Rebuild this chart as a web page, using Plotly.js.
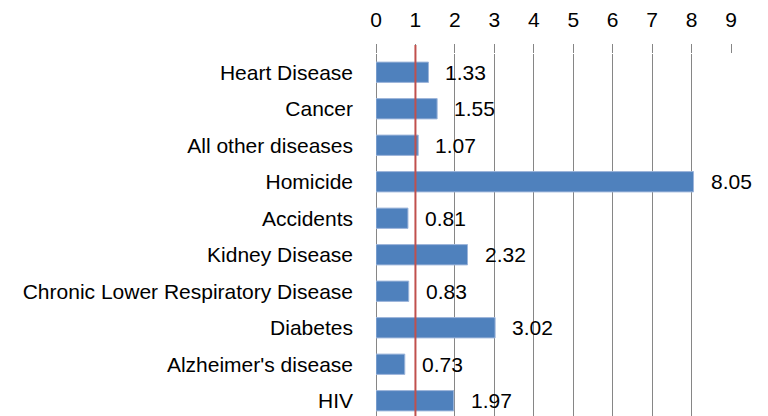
<!DOCTYPE html>
<html>
<head>
<meta charset="utf-8">
<script src="https://cdn.plot.ly/plotly-3.0.1.min.js"></script>
<style>
html, body { margin: 0; padding: 0; overflow: hidden; background: #fff; }
#chart { width: 768px; height: 419px; }
</style>
</head>
<body>
<div id="chart"></div>
<script>
const categories = ["Heart Disease", "Cancer", "All other diseases", "Homicide", "Accidents",
  "Kidney Disease", "Chronic Lower Respiratory Disease", "Diabetes", "Alzheimer's disease", "HIV"];
const values = [1.33, 1.55, 1.07, 8.05, 0.81, 2.32, 0.83, 3.02, 0.73, 1.97];
const tickValues = [0, 1, 2, 3, 4, 5, 6, 7, 8, 9];
const referenceValue = 1;

const FONT = "Liberation Sans, Arial, sans-serif";

const trace = {
  type: "bar",
  orientation: "h",
  y: categories,
  x: values,
  marker: { color: "#4F81BD", line: { color: "#9DB5DA", width: 1 } },
  hoverinfo: "none"
};

const annotations = values.map((v, i) => ({
  x: v, y: categories[i], xref: "x", yref: "y",
  text: v.toFixed(2), showarrow: false, xanchor: "left", xshift: 15,
  font: { family: FONT, size: 21, color: "#000" }
}));

const layout = {
  width: 768, height: 419,
  margin: { l: 376, r: 37, t: 54, b: 0, pad: 0 },
  paper_bgcolor: "#fff", plot_bgcolor: "#fff",
  showlegend: false,
  bargap: 0.444,
  font: { family: FONT, size: 21, color: "#000" },
  xaxis: {
    side: "top", range: [0, 9], tickvals: tickValues,
    showgrid: true, gridcolor: "#868686", gridwidth: 1,
    zeroline: true, zerolinecolor: "#868686", zerolinewidth: 1,
    ticks: "outside", ticklen: 9, tickcolor: "#868686", tickwidth: 1,
    showline: false, ticklabelstandoff: 9,
    tickfont: { family: FONT, size: 21, color: "#000" }
  },
  yaxis: {
    autorange: "reversed", type: "category",
    showgrid: false, zeroline: false, showline: false,
    ticks: "", ticklabelstandoff: 22,
    tickfont: { family: FONT, size: 21, color: "#000" }
  },
  shapes: [{
    type: "line", xref: "x", yref: "paper",
    x0: referenceValue, x1: referenceValue, y0: 0, y1: 1 + 9 / 365,
    line: { color: "#C0504D", width: 2 }
  }],
  annotations: annotations
};

Plotly.newPlot("chart", [trace], layout, { displayModeBar: false, staticPlot: true });
</script>
</body>
</html>
